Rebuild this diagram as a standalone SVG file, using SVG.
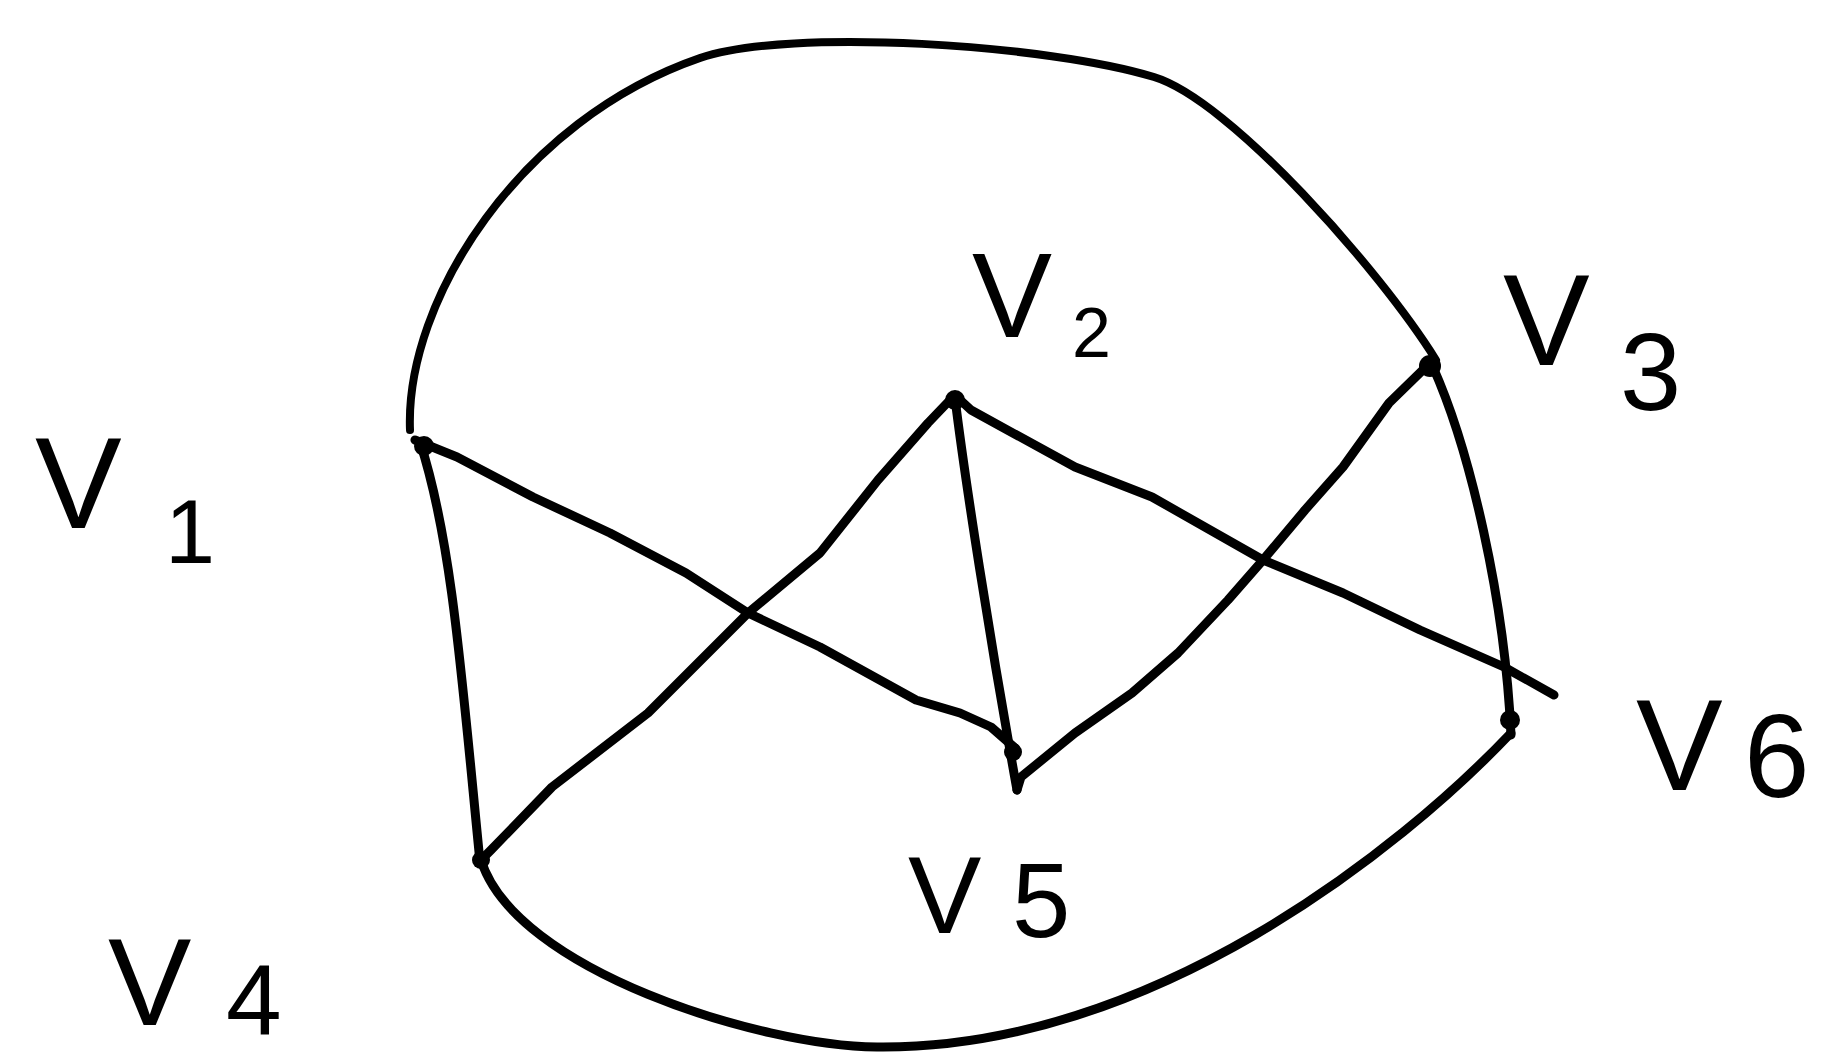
<svg xmlns="http://www.w3.org/2000/svg" width="1838" height="1058" viewBox="0 0 1838 1058">
<style>
.e{fill:none;stroke:#000;stroke-width:9;stroke-linecap:round;stroke-linejoin:round}
.d{fill:#000}
.l{font-family:"Liberation Sans",Arial,sans-serif;fill:#000}
</style>
<rect width="1838" height="1058" fill="#fff"/>
<g id="connectors">
<path class="e" style="stroke-width:8" d="M410,430 C405,300 520,120 700,58 C790,27 1050,45 1154,77 C1230,100 1380,270 1436,360"/>
<path class="e" d="M420,442 C452,540 462,680 480,862"/>
<polyline class="e" points="415,440 457,457 533,497 610,533 686,573 748,613 820,647 916,700 960,713 991,727 1015,748"/>
<polyline class="e" points="483,858 491,850 552,787 648,713 748,613 820,553 878,480 928,423 950,400"/>
<path class="e" d="M955,398 C965,480 990,640 1017,790"/>
<polyline class="e" points="958,398 971,410 1075,467 1152,497 1263,560 1343,593 1420,630 1504,667 1554,695"/>
<polyline class="e" points="1017,790 1021,777 1075,733 1132,693 1178,653 1228,600 1263,560 1305,510 1343,467 1389,403 1430,363"/>
<path class="e" d="M1433,367 C1470,450 1505,600 1511,735"/>
<path class="e" d="M1511,733 C1400,850 1150,1050 877,1047 C760,1046 515,970 481,860"/>
</g>
<g id="v1"><circle class="d" cx="424" cy="446" r="10"/><text class="l" x="35" y="528" font-size="130">V</text><text class="l" x="165" y="563" font-size="90">1</text></g>
<g id="v2"><circle class="d" cx="955" cy="400" r="10"/><text class="l" x="972" y="337" font-size="120">V</text><text class="l" x="1072" y="357" font-size="70">2</text></g>
<g id="v3"><circle class="d" cx="1430" cy="366" r="11"/><text class="l" x="1503" y="365" font-size="130">V</text><text class="l" x="1620" y="410" font-size="110">3</text></g>
<g id="v4"><circle class="d" cx="481" cy="860" r="9"/><text class="l" x="108" y="1025" font-size="125">V</text><text class="l" x="226" y="1035" font-size="100">4</text></g>
<g id="v5"><circle class="d" cx="1013" cy="752" r="9"/><text class="l" x="908" y="933" font-size="110">V</text><text class="l" x="1012" y="937" font-size="105">5</text></g>
<g id="v6"><circle class="d" cx="1510" cy="720" r="10"/><text class="l" x="1636" y="790" font-size="130">V</text><text class="l" x="1744" y="797" font-size="118">6</text></g>
</svg>
